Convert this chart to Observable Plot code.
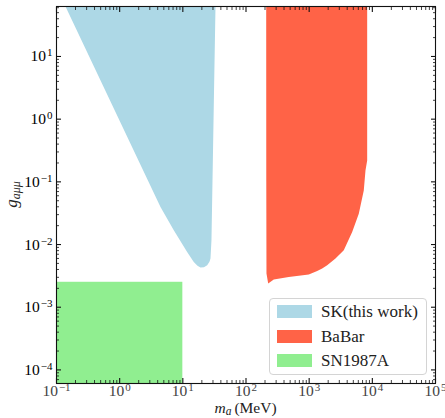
<!DOCTYPE html>
<html>
<head>
<meta charset="utf-8">
<script src="https://cdn.jsdelivr.net/npm/d3@7"></script>
<script src="https://cdn.jsdelivr.net/npm/@observablehq/plot@0.6"></script>
<style>
  body { margin: 0; background: #fff; }
  #chart { position: relative; width: 445px; height: 418px; }
  .legend { position: absolute; left: 269px; top: 298px; width: 158px; height: 77px; box-sizing: border-box;
    border: 1px solid #d4d4d4; border-radius: 4px; background: rgba(255,255,255,0.85);
    font-family: "Liberation Serif", serif; font-size: 17px; color: #222; }
  .row { position: absolute; left: 7px; height: 13px; }
  .patch { position: absolute; left: 0; top: 0; width: 35px; height: 13px; }
  .lab { position: absolute; left: 44px; top: -4px; line-height: 21px; white-space: nowrap; }
</style>
</head>
<body>
<div id="chart"></div>
<script>
// ---- data ----
const xDomain = [0.1, 1e5];
const yDomain = [6.07e-5, 62.7];

const skMass     = [0.1388, 2.79, 4.43, 7.19, 11.7, 14.9, 17.06, 19.0, 21.6, 24.3, 26.4, 27.4, 28.4, 29.5, 31.0, 32.9];
const skCoupling = [62.7, 0.1056, 0.0396, 0.01686, 0.0076, 0.00526, 0.00458, 0.00429, 0.00433, 0.00467, 0.00531, 0.00597, 0.01167, 0.1056, 2.0, 62.7];

const babarMass     = [208.8, 209.5, 211, 224.6, 275, 475, 986, 1340, 1607, 1928, 2610, 3532, 4797, 6102, 7320, 7790, 8285, 8285];
const babarCoupling = [62.7, 0.1, 0.00344, 0.00238, 0.00276, 0.00304, 0.00332, 0.00379, 0.00413, 0.00467, 0.00597, 0.00809, 0.01585, 0.0311, 0.0731, 0.1524, 0.22, 62.7];

const snMass = [0.1, 10];
const snCoupling = [6.07e-5, 0.0025];

const seriesNames  = ["SK(this work)", "BaBar", "SN1987A"];
const seriesColors = ["#add8e6", "#ff6347", "#90ee90"];

const xTickValues = [1e-1, 1e0, 1e1, 1e2, 1e3, 1e4, 1e5];
const xTickLabels = ["10^\u22121", "10^0", "10^1", "10^2", "10^3", "10^4", "10^5"];
const yTickValues = [1e-4, 1e-3, 1e-2, 1e-1, 1e0, 1e1];
const yTickLabels = ["10^\u22124", "10^\u22123", "10^\u22122", "10^\u22121", "10^0", "10^1"];

// minor ticks 2..9 x 10^k
function minors(lo, hi) {
  const out = [];
  for (let k = -6; k <= 6; k++) for (let m = 2; m <= 9; m++) {
    const v = m * Math.pow(10, k);
    if (v > lo && v < hi) out.push(v);
  }
  return out;
}
const xMinor = minors(xDomain[0], xDomain[1]);
const yMinor = minors(yDomain[0], yDomain[1]);

const sk = skMass.map((m, i) => ({m, g: skCoupling[i]}));
const babar = babarMass.map((m, i) => ({m, g: babarCoupling[i]}));
const sn = [{x1: snMass[0], x2: snMass[1], y1: snCoupling[0], y2: snCoupling[1]}];

const blank = () => "";

const chart = Plot.plot({
  width: 445, height: 418,
  marginLeft: 56, marginRight: 10, marginTop: 6, marginBottom: 35,
  x: {type: "log", domain: xDomain, label: null},
  y: {type: "log", domain: yDomain, label: null},
  style: {fontFamily: "Liberation Serif, serif", fontSize: "15.5px", background: "white", color: "#111"},
  marks: [
    Plot.rect(sn, {x1: "x1", x2: "x2", y1: "y1", y2: "y2", fill: seriesColors[2]}),
    Plot.line(sk, {x: "m", y: "g", fill: seriesColors[0], stroke: "none", clip: true}),
    Plot.line(babar, {x: "m", y: "g", fill: seriesColors[1], stroke: "none", clip: true}),
    Plot.frame({stroke: "#111", strokeWidth: 1.1}),
    // inward major / minor ticks on all four sides
    Plot.axisX(xTickValues, {anchor: "bottom", tickSize: -5, tickFormat: blank, strokeWidth: 1.1}),
    Plot.axisX(xTickValues, {anchor: "top", tickSize: -5, tickFormat: blank, strokeWidth: 1.1}),
    Plot.axisX(xMinor, {anchor: "bottom", tickSize: -3, tickFormat: blank, strokeWidth: 0.8}),
    Plot.axisX(xMinor, {anchor: "top", tickSize: -3, tickFormat: blank, strokeWidth: 0.8}),
    Plot.axisY(yTickValues, {anchor: "left", tickSize: -5, tickFormat: blank, strokeWidth: 1.1}),
    Plot.axisY(yTickValues, {anchor: "right", tickSize: -5, tickFormat: blank, strokeWidth: 1.1}),
    Plot.axisY(yMinor, {anchor: "left", tickSize: -3, tickFormat: blank, strokeWidth: 0.8}),
    Plot.axisY(yMinor, {anchor: "right", tickSize: -3, tickFormat: blank, strokeWidth: 0.8}),
    // tick labels
    Plot.axisX(xTickValues, {anchor: "bottom", tickSize: 0, tickPadding: 1.5, fill: "#444",
      tickFormat: d => xTickLabels[xTickValues.indexOf(d)]}),
    Plot.axisY(yTickValues, {anchor: "left", tickSize: 0, tickPadding: 4, fill: "#000",
      tickFormat: d => yTickLabels[yTickValues.indexOf(d)]})
  ]
});

document.getElementById("chart").appendChild(chart);

// superscripts in tick labels
const svg = d3.select(chart);
svg.selectAll('g[aria-label="x-axis tick label"] text, g[aria-label="y-axis tick label"] text').each(function () {
  const t = this.textContent;
  if (!t.includes("^")) return;
  const [base, sup] = t.split("^");
  const sel = d3.select(this);
  sel.text(null);
  sel.append("tspan").text(base);
  sel.append("tspan").attr("dy", "-5px").attr("dx", "1px").style("font-size", "11px").text(sup);
});

// axis titles
const xl = svg.append("text").attr("x", 245.5).attr("y", 413).attr("text-anchor", "middle")
  .style("font-family", "Liberation Serif, serif").style("font-size", "15.5px").attr("fill", "#222");
xl.append("tspan").style("font-style", "italic").text("m");
xl.append("tspan").style("font-style", "italic").style("font-size", "11.5px").attr("dy", "2px").text("a");
xl.append("tspan").attr("dy", "-2px").attr("dx", "3px").text("(MeV)");

const yl = svg.append("text").attr("transform", "translate(17,194.5) rotate(-90)").attr("text-anchor", "middle")
  .style("font-family", "Liberation Serif, serif").style("font-size", "17px").attr("fill", "#222");
yl.append("tspan").style("font-style", "italic").text("g");
yl.append("tspan").style("font-style", "italic").style("font-size", "12px").attr("dy", "3px").text("a\u03bc\u03bc");

// legend
const legend = document.createElement("div");
legend.className = "legend";
const rowTops = [6, 31, 55];
seriesNames.forEach((name, i) => {
  const row = document.createElement("div");
  row.className = "row";
  row.style.top = rowTops[i] + "px";
  const p = document.createElement("div");
  p.className = "patch";
  p.style.background = seriesColors[i];
  const l = document.createElement("div");
  l.className = "lab";
  l.textContent = name;
  row.appendChild(p); row.appendChild(l);
  legend.appendChild(row);
});
document.getElementById("chart").appendChild(legend);
</script>
</body>
</html>
